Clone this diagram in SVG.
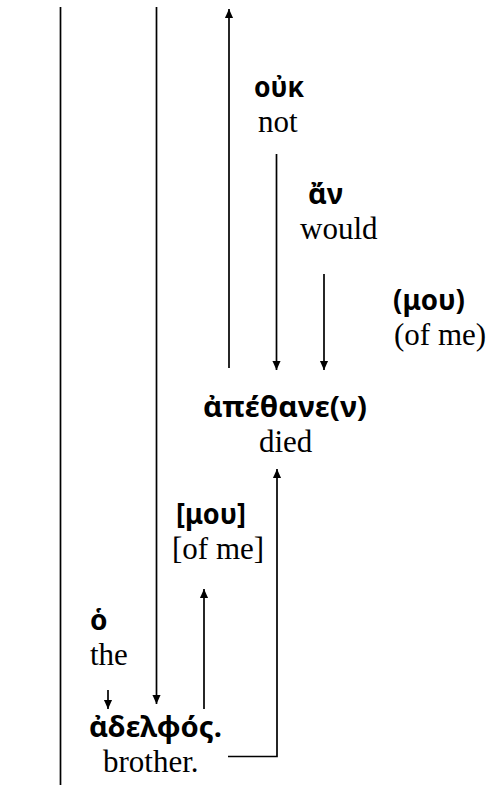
<svg xmlns="http://www.w3.org/2000/svg" width="490" height="785" viewBox="0 0 490 785">
<defs>
<marker id="ah" viewBox="0 0 10 12" markerWidth="9" markerHeight="11" refX="10" refY="6" orient="auto" markerUnits="userSpaceOnUse">
<path d="M0,1.5 L10,6 L0,10.5 z" fill="#000"/>
</marker>
<style>
.gr{font-family:"Noto Sans","DejaVu Sans",sans-serif;font-weight:700;font-size:28px;fill:#000}
.en{font-family:"Liberation Serif","Times New Roman",serif;font-size:31px;fill:#000}
.ln{stroke:#000;stroke-width:1.7;fill:none}
.ar{stroke:#000;stroke-width:1.7;fill:none;marker-end:url(#ah)}
</style>
</defs>
<rect width="490" height="785" fill="#fff"/>
<g id="connectors">
<line class="ln" x1="60.5" y1="7" x2="60.5" y2="785"/>
<line class="ar" x1="156.5" y1="7" x2="156.5" y2="704"/>
<line class="ar" x1="229" y1="368" x2="229" y2="9"/>
<line class="ar" x1="276.5" y1="154" x2="276.5" y2="370"/>
<line class="ar" x1="324" y1="274" x2="324" y2="370"/>
<path class="ar" d="M228,756.5 H277 V469"/>
<line class="ar" x1="204" y1="709" x2="204" y2="589"/>
<line class="ar" x1="108" y1="690" x2="108" y2="709"/>
</g>
<g id="ouk"><text class="gr" x="254" y="97" textLength="50" lengthAdjust="spacingAndGlyphs">οὐκ</text><text class="en" x="258" y="132">not</text></g>
<g id="an"><text class="gr" x="308" y="204" textLength="35" lengthAdjust="spacingAndGlyphs">ἄν</text><text class="en" x="300" y="239">would</text></g>
<g id="mou1"><text class="gr" x="393" y="310" textLength="72" lengthAdjust="spacingAndGlyphs">(μου)</text><text class="en" x="394" y="345">(of me)</text></g>
<g id="apethane"><text class="gr" x="203" y="417" textLength="164" lengthAdjust="spacingAndGlyphs">ἀπέθανε(ν)</text><text class="en" x="259" y="452">died</text></g>
<g id="mou2"><text class="gr" x="176" y="524" textLength="70" lengthAdjust="spacingAndGlyphs">[μου]</text><text class="en" x="172" y="559">[of me]</text></g>
<g id="ho"><text class="gr" x="90" y="630">ὁ</text><text class="en" x="90" y="665">the</text></g>
<g id="adelphos"><text class="gr" x="89" y="737" textLength="133" lengthAdjust="spacingAndGlyphs">ἀδελφός.</text><text class="en" x="103" y="772">brother.</text></g>
</svg>
